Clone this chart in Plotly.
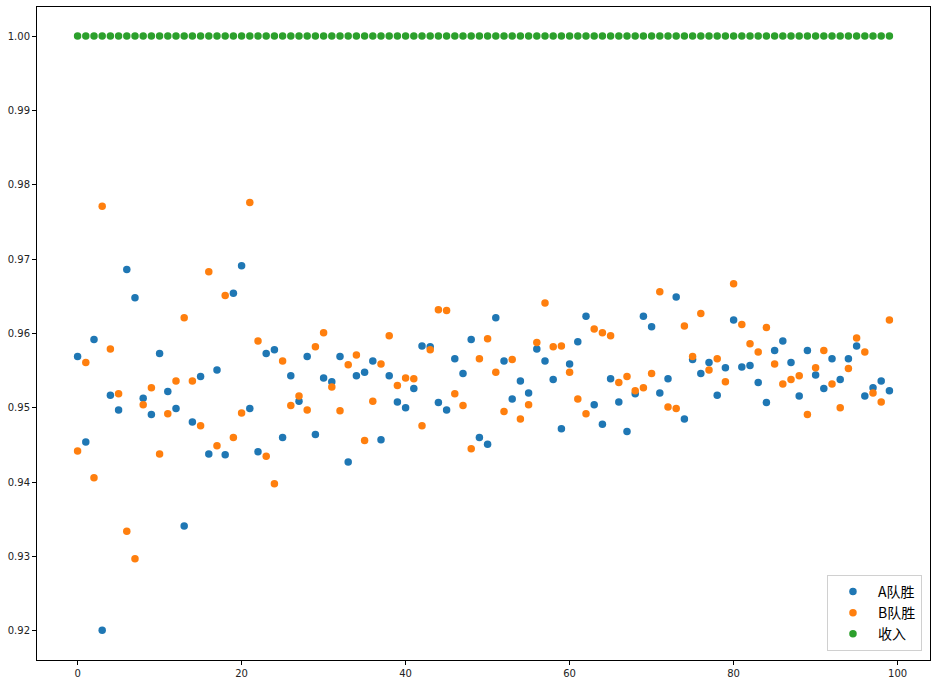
import plotly.graph_objects as go

x_index = list(range(100))

team_a = [0.9569, 0.9454, 0.9592, 0.9201, 0.9517, 0.9497, 0.9686, 0.9648, 0.9513, 0.9491,
          0.9573, 0.9522, 0.9499, 0.9341, 0.9481, 0.9542, 0.9438, 0.9551, 0.9437, 0.9654,
          0.9691, 0.9499, 0.9441, 0.9573, 0.9578, 0.9460, 0.9543, 0.9509, 0.9569, 0.9464,
          0.9540, 0.9535, 0.9569, 0.9427, 0.9543, 0.9548, 0.9563, 0.9457, 0.9543, 0.9508,
          0.9500, 0.9526, 0.9583, 0.9582, 0.9507, 0.9497, 0.9566, 0.9546, 0.9592, 0.9460,
          0.9451, 0.9621, 0.9563, 0.9512, 0.9536, 0.9520, 0.9579, 0.9563, 0.9538, 0.9472,
          0.9559, 0.9589, 0.9623, 0.9504, 0.9478, 0.9539, 0.9508, 0.9468, 0.9519, 0.9623,
          0.9609, 0.9520, 0.9539, 0.9649, 0.9485, 0.9565, 0.9546, 0.9561, 0.9517, 0.9554,
          0.9618, 0.9555, 0.9557, 0.9534, 0.9507, 0.9577, 0.9590, 0.9561, 0.9516, 0.9577,
          0.9544, 0.9526, 0.9566, 0.9538, 0.9566, 0.9583, 0.9516, 0.9527, 0.9536, 0.9523]

team_b = [0.9442, 0.9561, 0.9406, 0.9771, 0.9579, 0.9519, 0.9334, 0.9297, 0.9504, 0.9527,
          0.9438, 0.9492, 0.9536, 0.9621, 0.9536, 0.9476, 0.9683, 0.9449, 0.9651, 0.9460,
          0.9493, 0.9776, 0.9590, 0.9435, 0.9398, 0.9563, 0.9503, 0.9516, 0.9497, 0.9582,
          0.9601, 0.9528, 0.9496, 0.9558, 0.9571, 0.9456, 0.9509, 0.9559, 0.9597, 0.9530,
          0.9540, 0.9539, 0.9476, 0.9578, 0.9632, 0.9631, 0.9519, 0.9503, 0.9445, 0.9566,
          0.9593, 0.9548, 0.9495, 0.9565, 0.9485, 0.9504, 0.9588, 0.9641, 0.9582, 0.9583,
          0.9548, 0.9512, 0.9492, 0.9606, 0.9601, 0.9597, 0.9534, 0.9542, 0.9523, 0.9527,
          0.9546, 0.9656, 0.9501, 0.9499, 0.9610, 0.9569, 0.9627, 0.9551, 0.9566, 0.9535,
          0.9667, 0.9612, 0.9586, 0.9575, 0.9608, 0.9559, 0.9532, 0.9538, 0.9543, 0.9491,
          0.9554, 0.9577, 0.9532, 0.9500, 0.9553, 0.9594, 0.9575, 0.9520, 0.9508, 0.9618]

income = [1.0] * 100

names = ["A队胜", "B队胜", "收入"]
colors = ["#1f77b4", "#ff7f0e", "#2ca02c"]

x_ticks = [0, 20, 40, 60, 80, 100]
y_ticks = [0.92, 0.93, 0.94, 0.95, 0.96, 0.97, 0.98, 0.99, 1.00]

fig = go.Figure()
for series, name, color in zip([team_a, team_b, income], names, colors):
    fig.add_trace(go.Scatter(
        x=x_index, y=series, mode="markers", name=name,
        marker=dict(color=color, size=7.5, line=dict(width=0)),
    ))

axis_common = dict(
    showline=True, linecolor="black", linewidth=1, mirror=True,
    ticks="outside", ticklen=4, tickwidth=1, tickcolor="black",
    showgrid=False, zeroline=False, automargin=False,
    tickfont=dict(family="DejaVu Sans", size=10, color="#222222"),
)

fig.update_layout(
    width=936, height=683,
    margin=dict(l=37, r=6, t=7, b=23, pad=0),
    paper_bgcolor="white", plot_bgcolor="white",
    xaxis=dict(range=[-4.95, 103.95], tickvals=x_ticks, **axis_common),
    yaxis=dict(range=[0.91609, 1.0039], tickvals=y_ticks, tickformat=".2f", **axis_common),
    legend=dict(
        x=0.991, y=0.014, xanchor="right", yanchor="bottom",
        bgcolor="rgba(255,255,255,0.8)", bordercolor="#d0d0d0", borderwidth=1,
        font=dict(family="Noto Sans CJK SC", size=14, color="black"),
        itemwidth=40, tracegroupgap=0,
    ),
    showlegend=True,
)

fig.write_html(
    "out.html",
    config={"displayModeBar": False},
    post_script="document.body.style.margin='0';document.body.style.overflow='hidden';",
)
